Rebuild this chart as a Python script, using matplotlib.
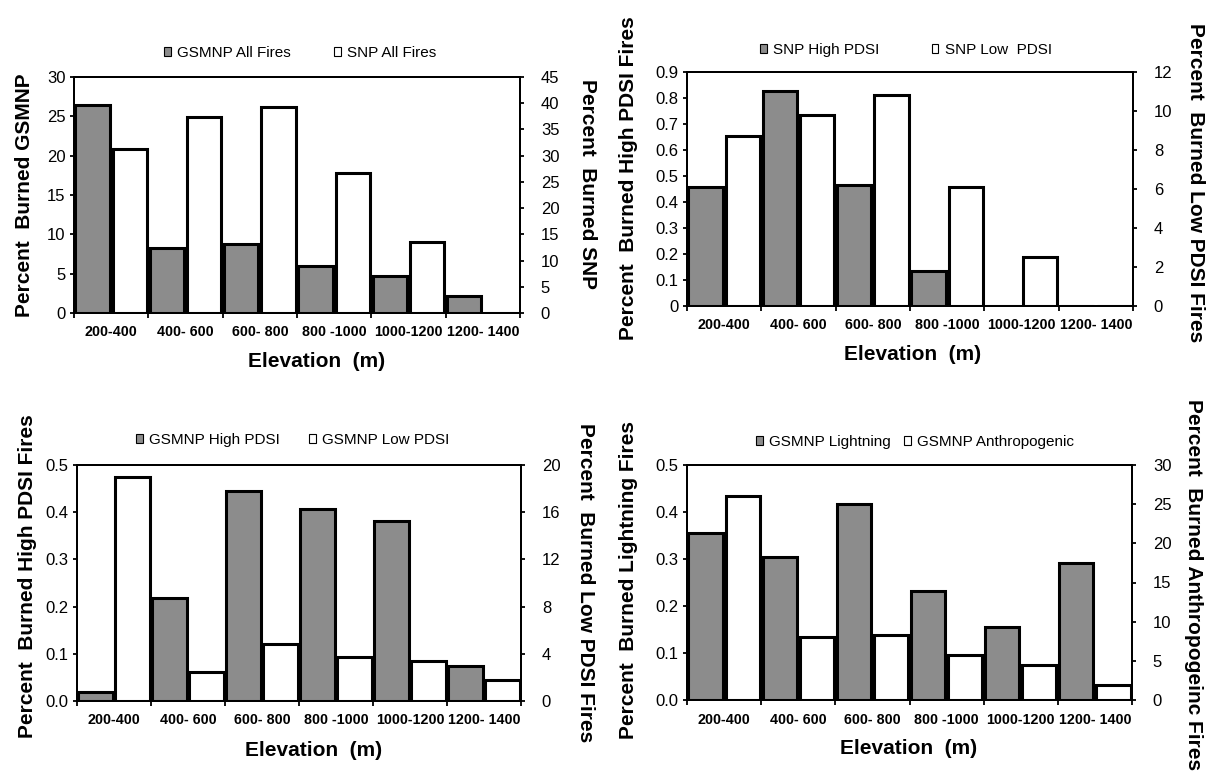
import matplotlib
matplotlib.use("Agg")
import matplotlib.pyplot as plt
from matplotlib.patches import Patch
from matplotlib.ticker import FixedLocator, FuncFormatter, NullFormatter
import numpy as np

plt.rcParams['font.family'] = ['Liberation Sans', 'DejaVu Sans']

# ---------------- data ----------------
categories = ["200-400", "400- 600", "600- 800", "800 -1000", "1000-1200", "1200- 1400"]

gsmnp_all = [26.4, 8.2, 8.8, 6.0, 4.7, 2.2]
snp_all = [31.2, 37.3, 39.3, 26.6, 13.6, 0.0]

snp_high_pdsi = [0.458, 0.826, 0.466, 0.134, 0.0, 0.0]
snp_low_pdsi = [8.74, 9.78, 10.8, 6.11, 2.49, 0.0]

gsmnp_high_pdsi = [0.020, 0.219, 0.445, 0.407, 0.381, 0.075]
gsmnp_low_pdsi = [18.98, 2.46, 4.87, 3.73, 3.37, 1.81]

gsmnp_lightning = [0.355, 0.304, 0.418, 0.231, 0.155, 0.291]
gsmnp_anthro = [26.1, 8.0, 8.26, 5.7, 4.43, 1.87]

W, H = 1214, 782
GRAY = '#8c8c8c'

fig = plt.figure(figsize=(W / 100, H / 100), dpi=100)


def px_axes(x0, y0, x1, y1):
    return fig.add_axes([x0 / W, 1 - y1 / H, (x1 - x0) / W, (y1 - y0) / H])


def fmt_left(dec, zero_plain=False):
    def f(v, pos):
        if dec == 0:
            return f"{v:.0f}"
        if zero_plain and abs(v) < 1e-9:
            return "0"
        return f"{v:.{dec}f}"
    return FuncFormatter(f)


def panel(box, gray_vals, white_vals, lmax, lstep, ldec, rmax, rstep,
          gray_name, white_name, left_label, right_label,
          llab_x, llab_yf, rlab_x, rlab_yf, xlab_xf, leg_cx, leg_cy, colsp,
          zero_plain=False):
    x0, y0, x1, y1 = box
    ax = px_axes(x0, y0, x1, y1)
    ax2 = ax.twinx()
    x = np.arange(len(categories))
    w = 0.46
    ax.bar(x - 0.25, gray_vals, width=w, color=GRAY, edgecolor='black',
           linewidth=2.2, zorder=3)
    ax2.bar(x + 0.25, white_vals, width=w, color='white', edgecolor='black',
            linewidth=2.2, zorder=3)
    ax.set_xlim(-0.5, len(categories) - 0.5)
    ax.set_ylim(0, lmax)
    ax2.set_ylim(0, rmax)
    ax.set_yticks(np.arange(0, lmax + lstep / 2, lstep))
    ax2.set_yticks(np.arange(0, rmax + rstep / 2, rstep))
    ax.yaxis.set_major_formatter(fmt_left(ldec, zero_plain))
    ax2.yaxis.set_major_formatter(FuncFormatter(lambda v, p: f"{v:.0f}"))

    # x ticks at category boundaries, labels at centres
    ax.xaxis.set_major_locator(FixedLocator(np.arange(-0.5, len(categories), 1.0)))
    ax.xaxis.set_major_formatter(NullFormatter())
    ax.xaxis.set_minor_locator(FixedLocator(x))
    ax.set_xticklabels(categories, minor=True)
    ax.tick_params(axis='x', which='major', direction='out', length=3.5, width=1.3)
    ax.tick_params(axis='x', which='minor', length=0, pad=9,
                   labelsize=10.3)
    for t in ax.get_xticklabels(minor=True):
        t.set_fontweight('bold')
    ax.tick_params(axis='y', direction='out', length=3, width=1.3,
                   labelsize=12, pad=3)
    ax2.tick_params(axis='y', direction='out', length=3, width=1.3,
                    labelsize=12, pad=12)
    for a in (ax, ax2):
        for s in a.spines.values():
            s.set_linewidth(1.4)

    ph = (y1 - y0)
    pw = (x1 - x0)
    ax.set_ylabel(left_label, fontsize=15, fontweight='bold', va='center', ha='center')
    ax.yaxis.set_label_coords((llab_x - x0) / pw, llab_yf)
    ax2.set_ylabel(right_label, fontsize=15, fontweight='bold', rotation=270,
                   va='center', ha='center')
    ax2.yaxis.set_label_coords((rlab_x - x0) / pw, rlab_yf)
    ax.set_xlabel("Elevation  (m)", fontsize=15, fontweight='bold', va='center')
    ax.xaxis.set_label_coords(xlab_xf, -49 / ph)

    handles = [Patch(facecolor=GRAY, edgecolor='black', linewidth=0.8, label=gray_name),
               Patch(facecolor='white', edgecolor='black', linewidth=0.8, label=white_name)]
    ax.legend(handles=handles, loc='center', ncol=2, frameon=False,
              bbox_to_anchor=((leg_cx - x0) / pw, (y1 - leg_cy) / ph),
              fontsize=11, handlelength=0.45, handleheight=0.45,
              handletextpad=0.4, columnspacing=colsp, borderaxespad=0)
    return ax, ax2


panel((74, 77, 520, 313), gsmnp_all, snp_all, 30, 5, 0, 45, 5,
      "GSMNP All Fires", "SNP All Fires",
      "Percent  Burned GSMNP", "Percent  Burned SNP",
      25, 0.5, 587, 0.547, 0.543, 300, 53, 2.8)

panel((687, 72, 1133, 306), snp_high_pdsi, snp_low_pdsi, 0.9, 0.1, 1, 12, 2,
      "SNP High PDSI", "SNP Low  PDSI",
      "Percent  Burned High PDSI Fires", "Percent  Burned Low PDSI Fires",
      628, 0.546, 1195, 0.529, 0.505, 906, 50, 3.4, zero_plain=True)

panel((77, 465, 521, 701), gsmnp_high_pdsi, gsmnp_low_pdsi, 0.5, 0.1, 1, 20, 4,
      "GSMNP High PDSI", "GSMNP Low PDSI",
      "Percent  Burned High PDSI Fires", "Percent  Burned Low PDSI Fires",
      28, 0.529, 586, 0.5, 0.533, 293, 440, 1.9)

panel((687, 465, 1132, 700), gsmnp_lightning, gsmnp_anthro, 0.5, 0.1, 1, 30, 5,
      "GSMNP Lightning", "GSMNP Anthropogenic",
      "Percent  Burned Lightning Fires", "Percent  Burned Anthropogeinc Fires",
      628, 0.51, 1194, 0.49, 0.497, 915, 442, 0.85)

fig.savefig("out.png", dpi=100, facecolor='white')
